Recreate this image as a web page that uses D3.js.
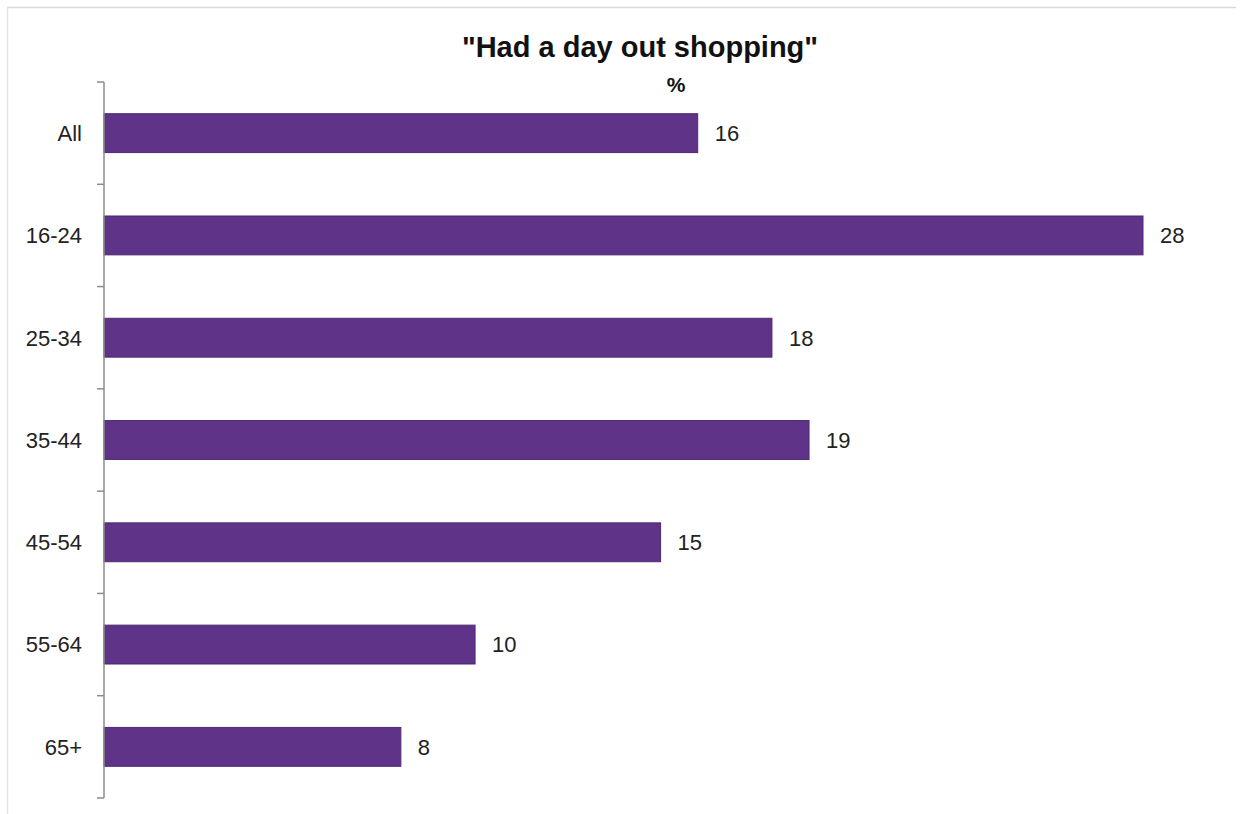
<!DOCTYPE html>
<html>
<head>
<meta charset="utf-8">
<script src="https://cdn.jsdelivr.net/npm/d3@7"></script>
<style>
  html, body { margin: 0; padding: 0; background: #fff; }
  svg { display: block; }
  text { font-family: "Liberation Sans", Arial, sans-serif; }
</style>
</head>
<body>
<svg id="chart" width="1243" height="814"></svg>
<script>
// Share who "had a day out shopping", by age group (%)
const categories = ["All", "16-24", "25-34", "35-44", "45-54", "55-64", "65+"];
const values = [16, 28, 18, 19, 15, 10, 8];
const title = "\"Had a day out shopping\"";
const unitLabel = "%";

const svg = d3.select("#chart");
const H = 814;
const plot = { top: 82, bottom: 798, left: 104, right: 1143 };

// Frame lines along the top and left edges
svg.append("line").attr("x1", 7).attr("x2", 1236).attr("y1", 7.5).attr("y2", 7.5)
  .attr("stroke", "#d9d9d9").attr("stroke-width", 1.5);
svg.append("line").attr("x1", 7.5).attr("x2", 7.5).attr("y1", 7).attr("y2", H)
  .attr("stroke", "#e3e3e3").attr("stroke-width", 1.5);

const y = d3.scaleBand()
  .domain(categories)
  .range([plot.top, plot.bottom])
  .paddingInner(0.62)
  .paddingOuter(0.31);

const x = d3.scaleLinear()
  .domain([0, 28])
  .range([plot.left, plot.right]);

// Bars
svg.append("g").selectAll("rect")
  .data(categories)
  .join("rect")
  .attr("x", x(0))
  .attr("y", d => y(d))
  .attr("width", (d, i) => x(values[i]) - x(0))
  .attr("height", y.bandwidth())
  .attr("fill", "#5e3388")
  .attr("stroke", "#4e2a72")
  .attr("stroke-width", 1);

// Value labels
svg.append("g").selectAll("text")
  .data(categories)
  .join("text")
  .attr("x", (d, i) => x(values[i]) + 17)
  .attr("y", d => y(d) + y.bandwidth() / 2)
  .attr("dy", "0.36em")
  .attr("font-size", 22)
  .attr("fill", "#222")
  .text((d, i) => values[i]);

// Category axis with boundary ticks between groups
const boundaries = d3.range(categories.length + 1)
  .map(i => plot.top + i * (plot.bottom - plot.top) / categories.length);
const axisG = svg.append("g");
axisG.append("line")
  .attr("x1", plot.left).attr("x2", plot.left)
  .attr("y1", boundaries[0]).attr("y2", boundaries[boundaries.length - 1])
  .attr("stroke", "#8c8c8c").attr("stroke-width", 1.5);
axisG.selectAll("line.tick")
  .data(boundaries)
  .join("line")
  .attr("class", "tick")
  .attr("x1", plot.left - 7).attr("x2", plot.left)
  .attr("y1", d => d).attr("y2", d => d)
  .attr("stroke", "#8c8c8c").attr("stroke-width", 1.5);
axisG.selectAll("text")
  .data(categories)
  .join("text")
  .attr("x", 82)
  .attr("y", d => y(d) + y.bandwidth() / 2)
  .attr("dy", "0.36em")
  .attr("text-anchor", "end")
  .attr("font-size", 22)
  .attr("fill", "#222")
  .text(d => d);

// Title and unit
svg.append("text")
  .attr("x", 640).attr("y", 57)
  .attr("text-anchor", "middle")
  .attr("font-size", 29)
  .attr("font-weight", "bold")
  .attr("fill", "#111")
  .text(title);
svg.append("text")
  .attr("x", 676).attr("y", 92)
  .attr("text-anchor", "middle")
  .attr("font-size", 21)
  .attr("font-weight", "bold")
  .attr("fill", "#111")
  .text(unitLabel);
</script>
</body>
</html>
